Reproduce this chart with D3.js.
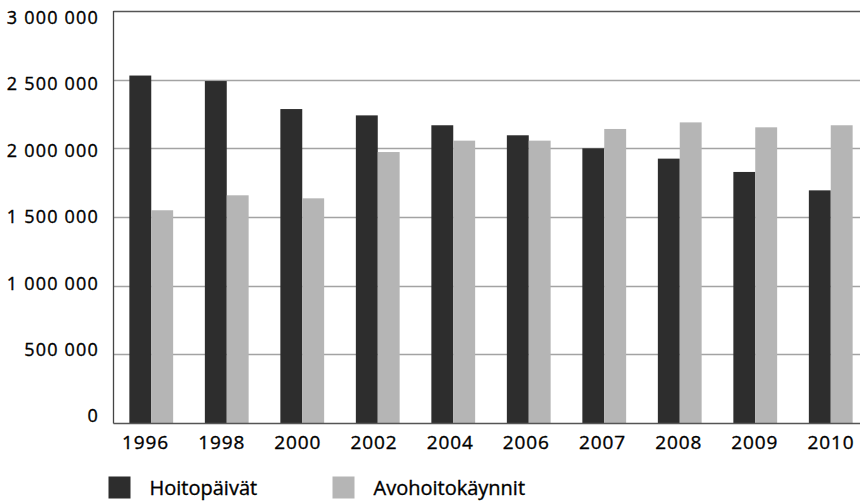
<!DOCTYPE html>
<html>
<head>
<meta charset="utf-8">
<script src="https://cdn.jsdelivr.net/npm/d3@7"></script>
<style>
  html, body { margin: 0; padding: 0; background: #fff; }
  svg { display: block; font-family: "Open Sans", "Noto Sans", sans-serif; }
  text { fill: #000; stroke: #000; stroke-width: 0.35px; }
</style>
</head>
<body>
<svg id="chart" width="860" height="501"></svg>
<script>
// Years on the category axis
const years = ["1996", "1998", "2000", "2002", "2004", "2006", "2007", "2008", "2009", "2010"];
// Inpatient care days
const hoitopaivat = [2530000, 2490000, 2286000, 2240000, 2168000, 2095000, 2000000, 1925000, 1828000, 1694000];
// Outpatient visits
const avohoitokaynnit = [1549000, 1658000, 1636000, 1973000, 2056000, 2056000, 2141000, 2189000, 2153000, 2168000];
// Value-axis tick values
const yTicks = [0, 500000, 1000000, 1500000, 2000000, 2500000, 3000000];
const seriesNames = ["Hoitopäivät", "Avohoitokäynnit"];

const colors = ["#2d2d2d", "#b5b5b5"];
const svg = d3.select("#chart");

const plot = { left: 113.5, right: 868.5, top: 11, bottom: 423 };

const y = d3.scaleLinear().domain([0, 3000000]).range([plot.bottom, plot.top]);
const yLabel = d3.scaleLinear().domain([0, 3000000]).range([416, 17.5]);

const x0 = d3.scaleBand().domain(years).range([plot.left, plot.right])
  .paddingInner(0.42).paddingOuter(0.21);
const x1 = d3.scaleBand().domain(seriesNames).range([0, x0.bandwidth()]);
const xLabel = d3.scalePoint().domain(years).range([145.5, 831]);

const fmt = v => d3.format(",")(v).replace(/,/g, " ");

// Horizontal gridlines
svg.append("g")
  .selectAll("line")
  .data(yTicks.filter(t => t > 0))
  .join("line")
  .attr("x1", plot.left).attr("x2", 860)
  .attr("y1", d => Math.round(y(d)) + 0.5).attr("y2", d => Math.round(y(d)) + 0.5)
  .attr("stroke", d => d === 3000000 ? "#555" : "#a3a3a3")
  .attr("stroke-width", 1.3);

// Bars
const rows = years.map((yr, i) => ({ year: yr, values: [hoitopaivat[i], avohoitokaynnit[i]] }));
svg.append("g")
  .selectAll("g")
  .data(rows)
  .join("g")
  .attr("transform", d => `translate(${x0(d.year)},0)`)
  .selectAll("rect")
  .data(d => d.values.map((v, j) => ({ key: seriesNames[j], v, j })))
  .join("rect")
  .attr("x", d => x1(d.key))
  .attr("width", x1.bandwidth())
  .attr("y", d => y(d.v))
  .attr("height", d => y(0) - y(d.v))
  .attr("fill", d => colors[d.j]);

// Axis lines
svg.append("line")
  .attr("x1", plot.left).attr("x2", plot.left)
  .attr("y1", plot.top).attr("y2", plot.bottom + 0.5)
  .attr("stroke", "#444").attr("stroke-width", 1.3);
svg.append("line")
  .attr("x1", plot.left).attr("x2", 860)
  .attr("y1", plot.bottom + 0.5).attr("y2", plot.bottom + 0.5)
  .attr("stroke", "#555").attr("stroke-width", 1.3);

// Value labels
svg.append("g")
  .selectAll("text")
  .data(yTicks)
  .join("text")
  .attr("x", 99)
  .attr("y", d => yLabel(d))
  .attr("dy", "0.36em")
  .attr("text-anchor", "end")
  .attr("font-size", 18)
  .attr("letter-spacing", 1.2)
  .text(fmt);

// Year labels
svg.append("g")
  .selectAll("text")
  .data(years)
  .join("text")
  .attr("x", d => xLabel(d))
  .attr("y", 449)
  .attr("text-anchor", "middle")
  .attr("font-size", 19)
  .attr("letter-spacing", 0.9)
  .text(d => d);

// Legend
const legendX = [108.5, 332.5];
const legend = svg.append("g")
  .selectAll("g")
  .data(seriesNames)
  .join("g")
  .attr("transform", (d, i) => `translate(${legendX[i]},476.5)`);
legend.append("rect")
  .attr("width", 22).attr("height", 22)
  .attr("fill", (d, i) => colors[i]);
legend.append("text")
  .attr("x", 41)
  .attr("y", 18.5)
  .attr("font-size", 20)
  .text(d => d);
</script>
</body>
</html>
